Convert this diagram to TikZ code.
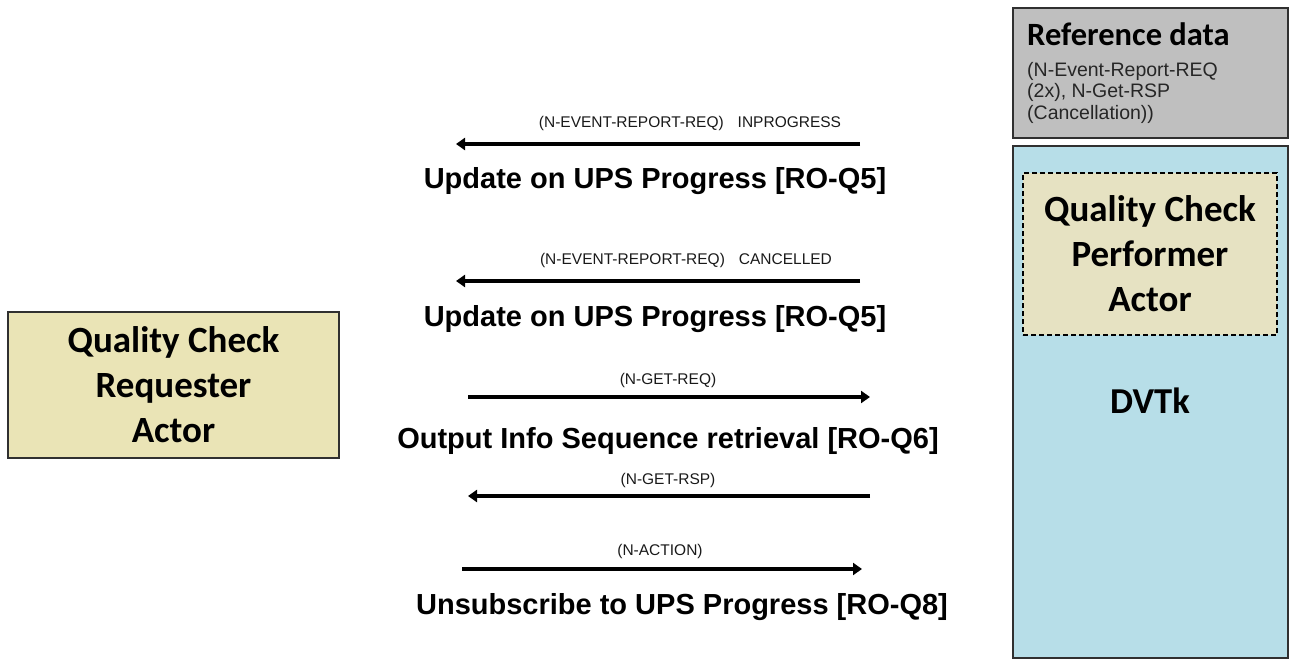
\documentclass[tikz,border=0pt]{standalone}
\usepackage{fontspec}
\setmainfont{Liberation Sans}
\newfontfamily\carlito{Carlito}
\usetikzlibrary{arrows.meta}
\definecolor{refgray}{HTML}{BFBFBF}
\definecolor{dvblue}{HTML}{B7DEE8}
\definecolor{actorfill}{HTML}{EAE4B6}
\definecolor{innerfill}{HTML}{E6E2C2}
\definecolor{edge}{HTML}{303030}
\tikzset{
  actorbox/.style={draw=edge, line width=1.2pt, fill=actorfill, align=center, inner sep=0pt,
    font=\carlito\bfseries\fontsize{37}{45}\selectfont},
  msg/.style={line width=3.8pt, -{Triangle[length=9pt,width=12pt]}, shorten >=-2pt},
  small/.style={font=\fontsize{15.5}{17}\selectfont, inner sep=0pt, text=black!90},
  big/.style={font=\bfseries\fontsize{29}{32}\selectfont, inner sep=0pt},
}
\begin{document}
\begin{tikzpicture}[x=1pt,y=-1pt]
\useasboundingbox (0,0) rectangle (1296,666);
% right side
\node[draw=edge, line width=1.2pt, fill=refgray, minimum width=275pt, minimum height=130pt, inner sep=0pt] (ref) at (1150.5,73) {};
\node[anchor=north west, align=left, inner sep=0pt, font=\carlito\bfseries\fontsize{32.5}{36}\selectfont] (reftitle) at (1027,22) {Reference data};
\node[anchor=north west, align=left, inner sep=0pt, font=\fontsize{19.5}{21.5}\selectfont, text=black!85] (reftext) at (1027,62) {(N-Event-Report-REQ\\(2x), N-Get-RSP\\(Cancellation))};
\node[draw=edge, line width=1.2pt, fill=dvblue, minimum width=275pt, minimum height=512pt, inner sep=0pt] (dvtk) at (1150.5,402) {};
\node[actorbox, draw=black, line width=1.2pt, dash pattern=on 5pt off 3pt, fill=innerfill, minimum width=254pt, minimum height=162pt] (perf) at (1150,254) {Quality Check\\Performer\\Actor};
\node[font=\carlito\bfseries\fontsize{36.5}{40}\selectfont, inner sep=0pt] (dvtklabel) at (1150,401) {DVTk};
% left actor
\node[actorbox, minimum width=331pt, minimum height=146pt] (req) at (173.5,385) {Quality Check\\Requester\\Actor};
% messages
\coordinate (a1s) at (860,144); \coordinate (a1e) at (458,144);
\draw[msg] (a1s) -- (a1e);
\node[small] (l1) at (690,123) {(N-EVENT-REPORT-REQ)\hspace{0.9em}INPROGRESS};
\node[big] (t1) at (655,181) {Update on UPS Progress [RO-Q5]};

\coordinate (a2s) at (860,281); \coordinate (a2e) at (458,281);
\draw[msg] (a2s) -- (a2e);
\node[small] (l2) at (686,260) {(N-EVENT-REPORT-REQ)\hspace{0.9em}CANCELLED};
\node[big] (t2) at (655,319) {Update on UPS Progress [RO-Q5]};

\coordinate (a3s) at (468,397); \coordinate (a3e) at (868,397);
\draw[msg] (a3s) -- (a3e);
\node[small] (l3) at (668,380) {(N-GET-REQ)};
\node[big] (t3) at (668,441) {Output Info Sequence retrieval [RO-Q6]};

\coordinate (a4s) at (870,496); \coordinate (a4e) at (470,496);
\draw[msg] (a4s) -- (a4e);
\node[small] (l4) at (668,480) {(N-GET-RSP)};

\coordinate (a5s) at (462,569); \coordinate (a5e) at (860,569);
\draw[msg] (a5s) -- (a5e);
\node[small] (l5) at (660,551) {(N-ACTION)};
\node[big] (t5) at (682,607) {Unsubscribe to UPS Progress [RO-Q8]};
\end{tikzpicture}
\end{document}
